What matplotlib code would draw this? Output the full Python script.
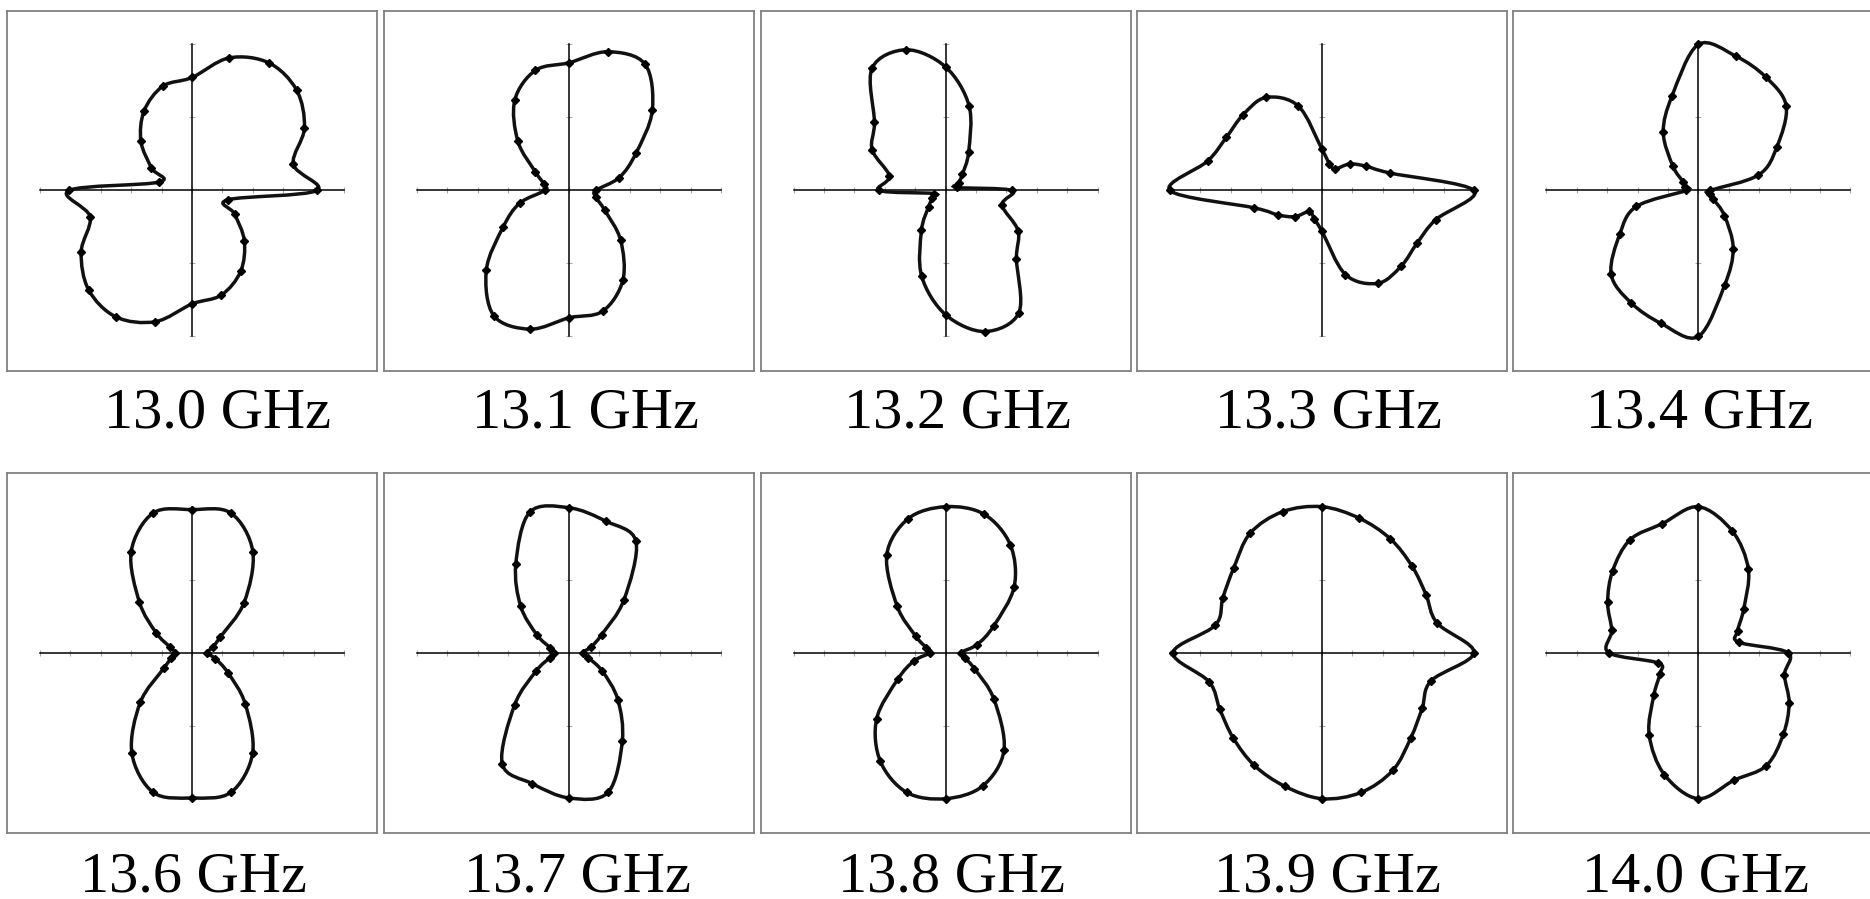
import numpy as np
import matplotlib
matplotlib.use('Agg')
import matplotlib.pyplot as plt
from matplotlib.path import Path
from matplotlib.patches import PathPatch

W, H = 1870, 899

# sampled every 15 degrees, counter-clockwise from +x
angles = np.arange(0, 360, 15)

labels = ['13.0 GHz', '13.1 GHz', '13.2 GHz', '13.3 GHz', '13.4 GHz',
          '13.6 GHz', '13.7 GHz', '13.8 GHz', '13.9 GHz', '14.0 GHz']

# normalised field patterns
r_130 = [0.82, 0.69, 0.854, 0.973, 1.01, 0.94, 0.774, 0.74, 0.63, 0.475, 0.308, 0.224,
         0.81, 0.694, 0.842, 0.962, 1.0, 0.93, 0.777, 0.742, 0.64, 0.487, 0.325, 0.245]
r_131 = [0.176, 0.342, 0.508, 0.775, 1.0, 0.984, 0.875, 0.852, 0.714, 0.475, 0.255, 0.171,
         0.16, 0.336, 0.5, 0.769, 0.99, 0.983, 0.872, 0.856, 0.709, 0.48, 0.272, 0.185]
r_132 = [0.437, 0.08, 0.1, 0.157, 0.304, 0.6, 0.847, 0.998, 0.967, 0.661, 0.557, 0.382,
         0.435, 0.08, 0.1, 0.157, 0.316, 0.607, 0.85, 1.0, 0.966, 0.66, 0.551, 0.385]
r_133 = [1.0, 0.463, 0.333, 0.257, 0.171, 0.19, 0.282, 0.598, 0.736, 0.734, 0.727, 0.779,
         1.0, 0.46, 0.334, 0.253, 0.166, 0.2, 0.28, 0.596, 0.734, 0.735, 0.722, 0.774]
r_134 = [0.077, 0.41, 0.597, 0.818, 0.894, 0.953, 1.0, 0.669, 0.461, 0.237, 0.113, 0.09,
         0.08, 0.421, 0.596, 0.811, 0.887, 0.943, 1.0, 0.67, 0.459, 0.243, 0.112, 0.08]
r_136 = [0.10, 0.14, 0.215, 0.484, 0.80, 0.99, 0.98, 0.99, 0.80, 0.489, 0.272, 0.15,
         0.11, 0.14, 0.215, 0.481, 0.792, 0.99, 0.995, 0.99, 0.797, 0.495, 0.272, 0.16]
r_137 = [0.09, 0.15, 0.248, 0.511, 0.881, 0.933, 0.993, 0.997, 0.70, 0.449, 0.243, 0.127,
         0.10, 0.13, 0.248, 0.506, 0.879, 0.929, 0.995, 0.991, 0.701, 0.454, 0.253, 0.131]
r_138 = [0.10, 0.215, 0.366, 0.639, 0.853, 0.982, 1.0, 0.95, 0.773, 0.449, 0.225, 0.13,
         0.10, 0.213, 0.362, 0.641, 0.858, 0.99, 1.0, 0.945, 0.77, 0.451, 0.22, 0.13]
r_139 = [1.0, 0.784, 0.791, 0.838, 0.90, 0.953, 1.0, 1.0, 0.945, 0.821, 0.753, 0.727,
         0.98, 0.769, 0.776, 0.826, 0.891, 0.947, 1.0, 0.991, 0.931, 0.826, 0.761, 0.743]
r_140 = [0.59, 0.276, 0.298, 0.422, 0.659, 0.863, 1.0, 0.915, 0.895, 0.796, 0.689, 0.59,
         0.59, 0.273, 0.293, 0.414, 0.647, 0.864, 1.0, 0.905, 0.894, 0.791, 0.69, 0.587]

patterns = [r_130, r_131, r_132, r_133, r_134,
            r_136, r_137, r_138, r_139, r_140]

# frame boxes (pixels, top-left origin)
col_left = [7, 384, 760.5, 1137, 1513.3]
box_w = 370
row_top = [10.5, 472.7]
box_h = 360
label_x = [217, 585, 958, 1328, 1699, 193, 577, 952, 1327, 1696]
label_y = [427, 892]


def px_rect(x0, y0, x1, y1):
    return [x0 / W, 1 - y1 / H, (x1 - x0) / W, (y1 - y0) / H]


def smooth_closed(x, y):
    pts = np.column_stack([x, y])
    n = len(pts)
    verts = [pts[0]]
    codes = [Path.MOVETO]
    for i in range(n):
        p0, p1, p2, p3 = pts[(i - 1) % n], pts[i], pts[(i + 1) % n], pts[(i + 2) % n]
        verts += [p1 + (p2 - p0) / 6.0, p2 - (p3 - p1) / 6.0, p2]
        codes += [Path.CURVE4] * 3
    return Path(verts, codes)


plt.rcParams['font.family'] = ['Liberation Serif', 'DejaVu Serif']
fig = plt.figure(figsize=(W / 100, H / 100), dpi=100)
fig.patch.set_facecolor('white')

for k, r in enumerate(patterns):
    row, col = divmod(k, 5)
    x0 = col_left[col]
    y0 = row_top[row]
    box = fig.add_axes(px_rect(x0, y0, x0 + box_w, y0 + box_h))
    box.set_xticks([])
    box.set_yticks([])
    for s in box.spines.values():
        s.set_color('#808080')
        s.set_linewidth(1.3)

    cx = x0 + box_w / 2
    cy = y0 + box_h / 2
    ax = fig.add_axes(px_rect(cx - 152, cy - 146, cx + 152, cy + 146))
    ax.patch.set_alpha(0)
    ax.set_xlim(-1, 1)
    ax.set_ylim(-1, 1)
    ax.spines['left'].set_position('zero')
    ax.spines['bottom'].set_position('zero')
    ax.spines['top'].set_visible(False)
    ax.spines['right'].set_visible(False)
    for s in ('left', 'bottom'):
        ax.spines[s].set_linewidth(1.1)
        ax.spines[s].set_color('black')
    ax.set_xticks(np.linspace(-1, 1, 11))
    ax.set_yticks([-1, -0.5, 0.5, 1])
    ax.tick_params(direction='inout', length=4, width=0.8, color='#aaaaaa',
                   labelbottom=False, labelleft=False)

    th = np.radians(angles)
    r = np.asarray(r)
    x = r * np.cos(th)
    y = r * np.sin(th)
    ax.add_patch(PathPatch(smooth_closed(x, y), fill=False, ec='#111111',
                           lw=2.5, clip_on=False, zorder=3))
    ax.plot(x, y, ls='none', marker='D', ms=4.2, color='black',
            clip_on=False, zorder=4)

    fig.text(label_x[k] / W, 1 - label_y[row] / H, labels[k],
             ha='center', va='baseline', fontsize=42, color='black')

fig.savefig('out.png', dpi=100, facecolor='white')
